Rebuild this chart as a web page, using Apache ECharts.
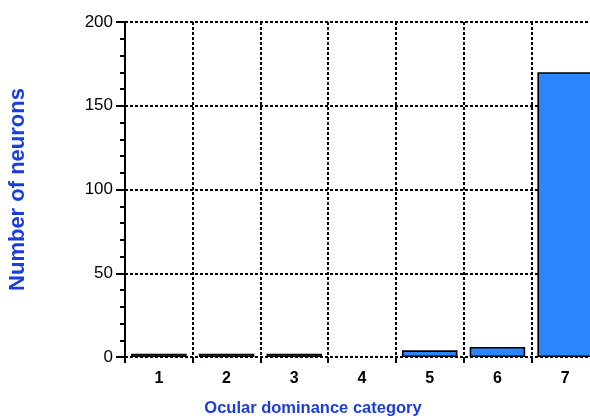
<!DOCTYPE html>
<html><head><meta charset="utf-8">
<script src="https://cdn.jsdelivr.net/npm/echarts@6/dist/echarts.min.js"></script>
<style>html,body{margin:0;padding:0;background:#fff}#c{width:590px;height:419px}</style>
</head><body><div id="c"></div>
<script>
const categories = ['1','2','3','4','5','6','7'];
const neurons = [2, 2, 2, 0, 4, 6, 170];
const yTicks = [0, 50, 100, 150, 200];

const chart = echarts.init(document.getElementById('c'), null, {renderer:'canvas'});
const font = '"Liberation Sans", Arial, Helvetica, sans-serif';
const blue = '#1a3ddb';
chart.setOption({
  animation: false,
  grid: {left: 125, top: 22, width: 474, bottom: 62, containLabel: false, outerBoundsMode: 'none'},
  xAxis: {
    type: 'category', data: categories, boundaryGap: true,
    axisLine: {show: false},
    axisTick: {show: true, length: 6, lineStyle: {color: '#000', width: 2}},
    axisLabel: {color: '#000', fontFamily: font, fontWeight: 'bold', fontSize: 16, margin: 14},
    splitLine: {show: true, lineStyle: {color: '#000', type: [3, 2], width: 2}}
  },
  yAxis: {
    type: 'value', min: yTicks[0], max: yTicks[yTicks.length-1], interval: 50,
    name: 'Number of neurons', nameLocation: 'middle', nameGap: 96,
    nameTextStyle: {color: blue, fontFamily: font, fontWeight: 'bold', fontSize: 22},
    axisLine: {show: true, lineStyle: {color: '#000', width: 2}},
    axisTick: {show: true, length: 9, lineStyle: {color: '#000', width: 2}},
    minorTick: {show: true, splitNumber: 5, length: 5, lineStyle: {color: '#000', width: 2}},
    axisLabel: {color: '#000', fontFamily: font, fontSize: 17, margin: 12},
    splitLine: {show: true, lineStyle: {color: '#000', type: [3, 2], width: 2}}
  },
  graphic: [{
    type: 'text', x: 313, y: 408,
    style: {text: 'Ocular dominance category', fill: blue, font: 'bold 16.5px ' + font, align: 'center', verticalAlign: 'middle'}
  }],
  series: [{
    type: 'bar',
    data: neurons.map(v => v === 0 ? '-' : v),
    barCategoryGap: '18%',
    itemStyle: {color: '#2a85ff', borderColor: '#000', borderWidth: 1.6}
  }]
});
</script></body></html>
